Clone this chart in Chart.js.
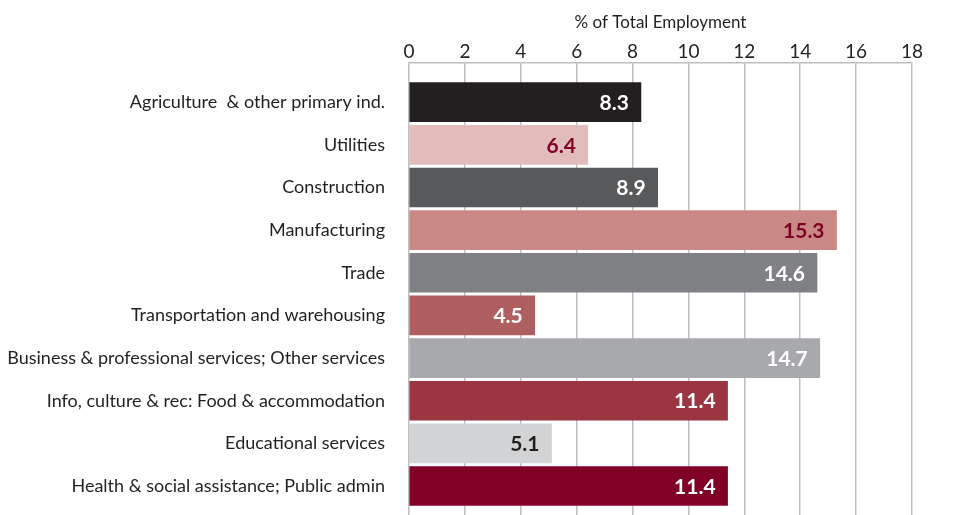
<!DOCTYPE html>
<html>
<head>
<meta charset="utf-8">
<script src="https://cdn.jsdelivr.net/npm/chart.js@4/dist/chart.umd.min.js"></script>
<style>
  html, body { margin: 0; padding: 0; background: #fff; }
  #wrap { width: 956px; height: 515px; }
</style>
</head>
<body>
<div id="wrap"><canvas id="employmentChart"></canvas></div>
<script>
// 行业就业占比
const industries = [
  "Agriculture  & other primary ind.",
  "Utilities",
  "Construction",
  "Manufacturing",
  "Trade",
  "Transportation and warehousing",
  "Business & professional services; Other services",
  "Info, culture & rec: Food & accommodation",
  "Educational services",
  "Health & social assistance; Public admin",
];
const shares = [8.3, 6.4, 8.9, 15.3, 14.6, 4.5, 14.7, 11.4, 5.1, 11.4];
const barColors = [
  "#231f20", "#e2bcbb", "#58595b", "#c98886", "#808184",
  "#b05f60", "#a7a9ac", "#9b3542", "#d1d3d4", "#800026",
];
const labelColors = [
  "#ffffff", "#7f0025", "#ffffff", "#7f0025", "#ffffff",
  "#ffffff", "#ffffff", "#ffffff", "#231f20", "#ffffff",
];
const xTicks = [0, 2, 4, 6, 8, 10, 12, 14, 16, 18];

const FONT = "Lato, 'Open Sans', sans-serif";

// 在柱子末端内侧写数值
const valueLabels = {
  id: "valueLabels",
  afterDatasetsDraw(chart) {
    const ctx = chart.ctx;
    const meta = chart.getDatasetMeta(0);
    ctx.save();
    ctx.font = "bold 21px " + FONT;
    ctx.textAlign = "right";
    ctx.textBaseline = "middle";
    meta.data.forEach((bar, i) => {
      ctx.fillStyle = labelColors[i];
      ctx.fillText(shares[i].toFixed(1), bar.x - 12, bar.y + 1);
    });
    ctx.restore();
  },
};

new Chart(document.getElementById("employmentChart").getContext("2d"), {
  type: "bar",
  data: {
    datasets: [
      {
        data: shares.map((v, i) => ({ x: v, y: i })),
        backgroundColor: barColors,
        borderWidth: 0,
        barThickness: 39,
      },
    ],
  },
  options: {
    indexAxis: "y",
    responsive: true,
    maintainAspectRatio: false,
    animation: false,
    layout: { padding: { top: 12, right: 44, left: 0, bottom: 0 } },
    plugins: {
      legend: { display: false },
      tooltip: { enabled: false },
    },
    scales: {
      x: {
        type: "linear",
        position: "top",
        min: 0,
        max: 18,
        afterBuildTicks: (scale) => {
          scale.ticks = xTicks.map((v) => ({ value: v }));
        },
        grid: { color: "#bcbec0", lineWidth: 1.5, drawTicks: false },
        border: { display: true, color: "#bcbec0", width: 1.5 },
        ticks: {
          padding: 0,
          color: "#231f20",
          font: { family: FONT, size: 19 },
        },
        title: {
          display: true,
          text: "% of Total Employment",
          color: "#231f20",
          font: { family: FONT, size: 17 },
          padding: { top: 0, bottom: 8 },
        },
      },
      y: {
        type: "linear",
        reverse: true,
        offset: false,
        min: -0.914,
        max: 9.68,
        afterBuildTicks: (scale) => {
          scale.ticks = industries.map((_, i) => ({ value: i }));
        },
        // 固定左侧宽度，去掉上下留白，让网格线到底
        afterFit: (scale) => {
          scale.width = 409;
          scale.paddingTop = 0;
          scale.paddingBottom = 0;
        },
        grid: { display: false, drawTicks: false },
        border: { display: false },
        ticks: {
          padding: 24,
          color: "#231f20",
          font: { family: FONT, size: 18 },
          callback: (v) => industries[v],
        },
      },
    },
  },
  plugins: [valueLabels],
});
</script>
</body>
</html>
